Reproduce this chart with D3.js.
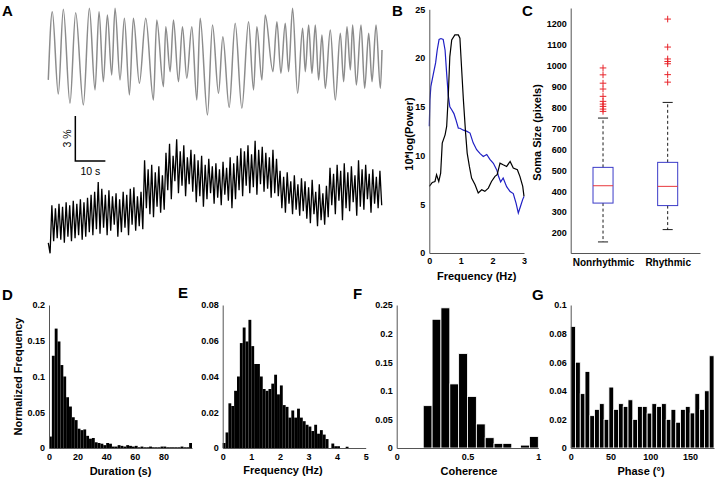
<!DOCTYPE html>
<html><head><meta charset="utf-8">
<script src="https://cdn.jsdelivr.net/npm/d3@7"></script>
<style>
body{margin:0;background:#fff}
svg{display:block}
text{font-family:"Liberation Sans",Arial,Helvetica,sans-serif}
</style>
</head><body>
<svg id="chart" width="715" height="480"></svg>
<script>
// ---------- Panel A: traces (time in s, signal in %) ----------
const greyT = [0,1.33,3.33,5.0,7.22,9.11,11.67,13.67,15.56,16.89,18.33,19.67,21.11,22.22,23.89,25.33,27.0,28.33,30.33,32.44,35.0,36.11,38.33,39.11,40.56,41.67,43.33,44.67,46.11,47.78,49.44,50.56,53.0,54.67,56.67,58.11,60.22,62.22,64.44,66.67,68.33,69.44,71.11,72.22,74.78,76.11,77.44,78.89,80.0,81.33,83.0,84.67,85.56,86.67,87.78,88.89,90.0,91.11,92.22,93.89,95.56,97.22,98.33,99.44,100.56,101.33,102.56,104.11,105.33,106.67,107.78,109.11,110.56,111.1];
const greyV = [11.56,16.1,10.62,16.27,10.0,16.04,9.89,16.33,10.89,16.11,11.44,15.89,11.89,16.33,11.56,15.67,10.56,15.67,11.33,15.67,10.22,15.56,11.11,15.11,12.11,15.56,11.44,15.11,11.67,15.11,10.22,15.67,9.22,15.22,10.67,14.44,9.73,15.33,9.67,15.44,10.89,15.11,11.56,15.89,12.11,15.44,12.0,15.33,12.11,16.33,10.67,15.0,12.11,15.22,12.0,15.22,11.56,14.56,11.0,14.89,10.22,14.67,11.44,15.11,12.22,15.22,11.22,15.22,11.0,14.67,11.44,15.22,11.0,13.56];
const blackV = [
 0.7,0.0,3.2,0.8,3.0,1.0,3.3,0.9,3.1,0.7,3.4,1.1,3.2,0.8,3.5,1.0,3.3,1.2,3.6,0.9,3.4,1.1,
 3.7,1.4,3.9,1.2,4.1,1.6,4.75,1.3,4.3,1.7,3.9,1.2,
 4.2,1.5,3.8,1.9,4.0,1.1,3.6,1.4,4.1,1.7,3.9,1.2,4.3,1.9,4.4,1.5,3.8,1.8,4.1,1.6,
 6.2,3.0,5.6,2.6,5.9,2.4,5.4,3.1,5.8,2.7,5.2,2.9,
 6.7,4.2,7.3,3.6,6.5,4.8,7.6,4.0,6.8,4.5,7.2,3.8,6.4,4.6,6.9,4.1,
 6.6,3.4,6.2,3.8,6.5,3.1,5.9,3.6,6.3,4.0,5.8,3.3,6.0,3.7,5.6,3.2,6.1,3.9,5.7,3.5,6.4,3.0,6.0,3.6,
 6.5,4.2,7.0,3.8,6.8,4.5,7.2,4.0,6.6,4.4,7.5,3.9,6.9,4.6,7.1,4.1,6.7,4.3,6.4,3.7,6.9,4.0,6.3,3.8,
 5.5,3.0,5.1,2.7,5.4,3.3,4.8,2.6,5.2,2.9,4.6,2.5,5.0,2.8,
 4.8,2.3,4.4,2.0,4.9,2.6,4.1,1.8,4.6,2.2,4.0,1.9,4.5,2.4,
 5.7,3.2,5.3,2.6,5.9,3.5,5.5,2.2,6.0,3.0,5.4,2.8,5.8,3.4,5.2,2.5,6.2,3.1,5.6,2.9,5.9,3.6,5.3,2.7,5.6,3.3,5.1,3.0,5.5,3.2];
const traceDuration = 111;
const scaleBarStart = [9, 6.15];   // [s, %]
const scaleBarSize = [10, 3];      // 10 s, 3 %

// ---------- Panel B: power spectra ----------
const bBlackF = [0,0.095,0.18,0.23,0.30,0.36,0.41,0.50,0.55,0.60,0.65,0.71,0.81,0.92,0.97,1.02,1.08,1.15,1.20,1.27,1.34,1.45,1.55,1.66,1.76,1.87,1.97,2.08,2.15,2.24,2.34,2.45,2.56,2.66,2.79,2.87,2.96,3.0];
const bBlackP = [6.83,7.24,7.34,8.03,7.34,8.2,11.27,12.12,12.98,16.05,20.15,21.86,22.37,22.37,22.03,19.13,15.71,12.30,10.25,8.88,7.68,7.0,6.15,6.49,6.32,6.66,7.34,7.86,8.03,9.22,9.05,8.88,9.39,8.71,8.54,7.86,6.83,5.81];
const bBlueF = [0,0.02,0.05,0.13,0.20,0.25,0.31,0.37,0.44,0.50,0.55,0.60,0.65,0.71,0.78,0.84,0.92,0.97,1.08,1.18,1.29,1.39,1.50,1.61,1.71,1.82,1.92,2.03,2.14,2.19,2.26,2.34,2.45,2.56,2.66,2.75,2.82,2.89,2.96,3.0];
const bBlueP = [13.0,15.7,17.1,18.4,19.5,20.8,21.9,22.0,21.9,20.8,18.4,16.2,15.0,14.7,14.3,13.7,12.8,12.8,12.6,12.5,12.3,11.3,10.6,10.2,9.9,10.1,9.6,9.2,8.5,7.9,7.3,7.7,6.8,6.3,6.1,5.1,4.1,4.8,5.5,5.8];
const bXTicks = [0,1,2,3];
const bYTicks = [0,5,10,15,20,25];

// ---------- Panel C: box plots ----------
const cCategories = ["Nonrhythmic","Rhythmic"];
const cWhiskerLow = [157,216];
const cQ1 = [343,331];
const cMedian = [426,423];
const cQ3 = [514,538];
const cWhiskerHigh = [750,825];
const cOutliers = [[990,957,917,889,854,830,817,806,793,782],[1224,1090,1033,1021,1010,958,922]];
const cYTicks = [200,300,400,500,600,700,800,900,1000,1100,1200];

// ---------- Panel D-G: histograms ----------
const dValues = [0.016,0.129,0.167,0.149,0.116,0.100,0.071,0.058,0.043,0.039,
 0.027,0.025,0.026,0.017,0.013,0.014,0.008,0.007,0.006,0.004,
 0.007,0.006,0.002,0.002,0.004,0.003,0.002,0.004,0.003,0.002,
 0.003,0.001,0.002,0.001,0.001,0.002,0.001,0.001,0.001,0.002,
 0.002,0.001,0.001,0.001,0.001,0.001,0.002,0.001,0.001,0.007];
const dBinWidth = 2;
const dXTicks = [0,20,40,60,80];
const dYTicks = [0,0.05,0.1,0.15,0.2];

const eValues = [0.0028,0.0087,0.025,0.0235,0.032,0.040,0.0587,0.0674,0.0596,0.0717,
 0.057,0.047,0.047,0.040,0.033,0.032,0.033,0.036,0.041,0.030,
 0.035,0.024,0.023,0.017,0.021,0.017,0.022,0.017,0.015,0.013,
 0.012,0.0095,0.013,0.008,0.010,0.0075,0.005,0,0.0025,0.001,
 0.001,0,0,0.0007,0,0,0,0,0,0];
const eBinWidth = 0.1;
const eXTicks = [0,1,2,3,4,5];
const eYTicks = [0,0.02,0.04,0.06,0.08];

const fValues = [0,0,0,0.074,0.225,0.245,0.112,0.165,0.09,0.042,0.018,0.008,0.008,0,0.005,0.02];
const fBinWidth = 0.0625;
const fXTicks = [0,0.5,1];
const fYTicks = [0,0.05,0.1,0.15,0.2,0.25];

const gValues = [0.085,0.060,0.038,0.0535,0.0226,0.027,0.031,0.020,0.0426,0.027,
 0.031,0.029,0.0337,0.020,0.029,0.029,0.0244,0.031,0.029,0.031,
 0.020,0.027,0.018,0.027,0.029,0.0245,0.038,0.027,0.040,0.0645];
const gBinWidth = 6;
const gXTicks = [0,50,100,150];
const gYTicks = [0,0.02,0.04,0.06,0.08,0.1];

// ================= drawing =================
const svg = d3.select("#chart");
const AX = "#555";

function styleAxis(g, fs){
  g.select(".domain").attr("stroke", AX).attr("stroke-width", 1);
  g.selectAll(".tick line").remove();
  g.selectAll(".tick text").attr("font-size", fs || 9).attr("font-weight", "bold")
    .attr("fill", "#000").style("font-family", '"Liberation Sans",Arial,sans-serif');
}
function leftAxis(x0, y, ticks){
  const g = svg.append("g").attr("transform", `translate(${x0},0)`)
    .call(d3.axisLeft(y).tickValues(ticks).tickFormat(String).tickSize(0).tickSizeOuter(0).tickPadding(4));
  styleAxis(g);
}
function bottomAxis(y0, x, ticks, pad, fs){
  const g = svg.append("g").attr("transform", `translate(0,${y0})`)
    .call(d3.axisBottom(x).tickValues(ticks).tickFormat(String).tickSize(0).tickSizeOuter(0).tickPadding(pad || 6));
  styleAxis(g, fs);
}
function label(txt, x, y, opts){
  opts = opts || {};
  const t = svg.append("text").text(txt)
    .attr("font-size", opts.size || 11)
    .attr("font-weight", opts.weight || "bold")
    .attr("text-anchor", opts.anchor || "middle")
    .attr("fill", "#000");
  if (opts.rotate) t.attr("transform", `translate(${x},${y}) rotate(-90)`);
  else t.attr("x", x).attr("y", y);
  return t;
}

// Panel letters
[["A",2,16],["B",392,16],["C",522,16],["D",2,300],["E",178,298],["F",353,299],["G",532,300]]
  .forEach(([s,x,y]) => label(s, x, y, {size:15, anchor:"start"}));

// ---- Panel A ----
const xA = d3.scaleLinear().domain([0, traceDuration]).range([48.3, 381.7]);
const yA = d3.scaleLinear().domain([0, 16.6]).range([253.3, 4.3]);
svg.append("path")
  .attr("d", d3.line().x((d,i)=>xA(greyT[i])).y(d=>yA(d)).curve(d3.curveMonotoneX)(greyV))
  .attr("fill","none").attr("stroke","#8c8c8c").attr("stroke-width",1.5);
const blackStep = traceDuration/(blackV.length-1);
svg.append("path")
  .attr("d", d3.line().x((d,i)=>xA(i*blackStep)).y(d=>yA(d))(blackV))
  .attr("fill","none").attr("stroke","#000").attr("stroke-width",1.3);
// scale bar
svg.append("path")
  .attr("d", d3.line()([
    [xA(scaleBarStart[0]), yA(scaleBarStart[1]+scaleBarSize[1])],
    [xA(scaleBarStart[0]), yA(scaleBarStart[1])],
    [xA(scaleBarStart[0]+scaleBarSize[0]), yA(scaleBarStart[1])]]))
  .attr("fill","none").attr("stroke","#000").attr("stroke-width",1.5);
label(scaleBarSize[1]+" %", xA(scaleBarStart[0])-4.5, yA(scaleBarStart[1]+scaleBarSize[1]/2), {size:10.5, weight:"normal", rotate:true});
label(scaleBarSize[0]+" s", xA(scaleBarStart[0]+scaleBarSize[0]/2), 175, {size:10.5, weight:"normal"});

// ---- Panel B ----
const xB = d3.scaleLinear().domain([0,3]).range([429.3, 524]);
const yB = d3.scaleLinear().domain([0,25]).range([253, 9.3]);
svg.append("path")
  .attr("d", d3.line().x((d,i)=>xB(bBlueF[i])).y(d=>yB(d))(bBlueP))
  .attr("fill","none").attr("stroke","#1f1fc4").attr("stroke-width",1.2);
svg.append("path")
  .attr("d", d3.line().x((d,i)=>xB(bBlackF[i])).y(d=>yB(d))(bBlackP))
  .attr("fill","none").attr("stroke","#000").attr("stroke-width",1.2);
leftAxis(429.3, yB, bYTicks);
bottomAxis(253, xB, bXTicks, 5);
label("Frequency (Hz)", 476.7, 279.7);
label("10*log(Power)", 412.5, 134, {rotate:true});

// ---- Panel C ----
const xC = d3.scaleLinear().domain([0.5, 2.5]).range([570.7, 700]);
const yC = d3.scaleLinear().domain([104, 1277]).range([253, 8]);
leftAxis(570.7, yC, cYTicks);
{
  const g = svg.append("g").attr("transform","translate(0,253)")
    .call(d3.axisBottom(xC).tickValues([1,2]).tickFormat((d)=>cCategories[d-1]).tickSize(0).tickSizeOuter(0).tickPadding(6));
  styleAxis(g, 10);
}
label("Soma Size (pixels)", 540.5, 132.5, {rotate:true});
cCategories.forEach((c,i) => {
  const cx = xC(i+1), hw = xC(i+1+0.155)-cx, cw = xC(i+1+0.078)-cx;
  const g = svg.append("g");
  g.append("line").attr("x1",cx).attr("x2",cx).attr("y1",yC(cQ3[i])).attr("y2",yC(cWhiskerHigh[i]))
    .attr("stroke","#000").attr("stroke-width",0.9).attr("stroke-dasharray","3,2.5");
  g.append("line").attr("x1",cx).attr("x2",cx).attr("y1",yC(cQ1[i])).attr("y2",yC(cWhiskerLow[i]))
    .attr("stroke","#000").attr("stroke-width",0.9).attr("stroke-dasharray","3,2.5");
  [cWhiskerHigh[i], cWhiskerLow[i]].forEach(v => g.append("line")
    .attr("x1",cx-cw).attr("x2",cx+cw).attr("y1",yC(v)).attr("y2",yC(v))
    .attr("stroke","#000").attr("stroke-width",0.9));
  g.append("rect").attr("x",cx-hw).attr("width",2*hw).attr("y",yC(cQ3[i])).attr("height",yC(cQ1[i])-yC(cQ3[i]))
    .attr("fill","none").attr("stroke","#3b3bc8").attr("stroke-width",1);
  g.append("line").attr("x1",cx-hw).attr("x2",cx+hw).attr("y1",yC(cMedian[i])).attr("y2",yC(cMedian[i]))
    .attr("stroke","#e8383d").attr("stroke-width",1);
  cOutliers[i].forEach(v => {
    const y = yC(v);
    g.append("path").attr("d",`M${cx-3.3},${y}H${cx+3.3}M${cx},${y-3.3}V${y+3.3}`)
      .attr("stroke","#e8242a").attr("stroke-width",1).attr("fill","none");
  });
});

// ---- Histograms ----
function histogram(values, binWidth, xDomain, xRange, yMax, xTicks, yTicks, gaps){
  const x = d3.scaleLinear().domain(xDomain).range(xRange);
  const y = d3.scaleLinear().domain([0, yMax]).range([448, 305]);
  svg.append("g").selectAll("rect").data(values).join("rect")
    .attr("x",(d,i)=>x(i*binWidth)).attr("width",(d,i)=>x((i+1)*binWidth)-x(i*binWidth))
    .attr("y",d=>y(d)).attr("height",d=>y(0)-y(d))
    .attr("fill","#000")
    .attr("stroke", gaps ? "#fff" : "none").attr("stroke-width", gaps ? 0.8 : 0);
  leftAxis(xRange[0], y, yTicks);
  bottomAxis(448, x, xTicks, 6);
}
histogram(dValues, dBinWidth, [0,100], [49,192], 0.2, dXTicks, dYTicks, false);
histogram(eValues, eBinWidth, [0,5], [222.7,365.7], 0.08, eXTicks, eYTicks, false);
histogram(fValues, fBinWidth, [0,1], [396.7,538.3], 0.25, fXTicks, fYTicks, true);
histogram(gValues, gBinWidth, [0,180], [570.7,714], 0.1, gXTicks, gYTicks, true);

label("Normalized Frequency", 21.5, 376.5, {rotate:true});
label("Duration (s)", 120.5, 475);
label("Frequency (Hz)", 283, 473.5);
label("Coherence", 469, 475);
label("Phase (°)", 641, 475);
</script>
</body></html>
